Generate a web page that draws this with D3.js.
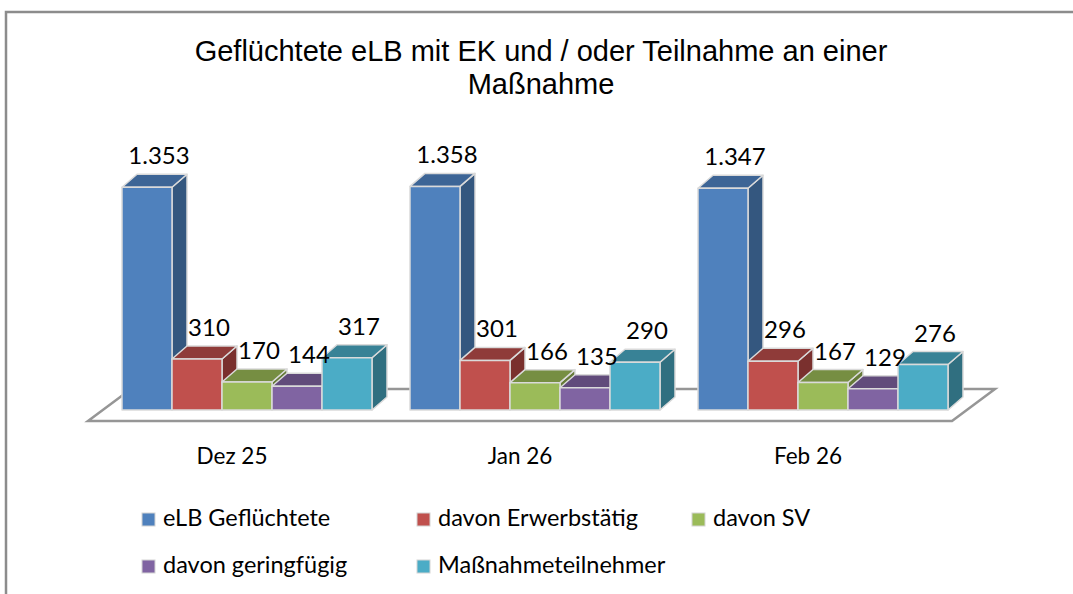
<!DOCTYPE html>
<meta charset="utf-8">
<style>
body { margin: 0; background: #fff; }
svg text { fill: #000; }
.title { font-family: "Liberation Sans", Arial, sans-serif; font-size: 29px; }
.val, .cat, .leg { font-family: Lato, "Open Sans", sans-serif; }
.val { font-size: 24px; }
.cat { font-size: 22.5px; }
.leg { font-size: 23.5px; }
.edge { stroke: #dadada; stroke-width: 1.5px; stroke-linejoin: round; }
</style>
<body>
<div id="chart"></div>
<script src="https://d3js.org/d3.v7.min.js"></script>
<script>

// data
var categories = ["Dez 25", "Jan 26", "Feb 26"];
var series = ["eLB Geflüchtete", "davon Erwerbstätig", "davon SV", "davon geringfügig", "Maßnahmeteilnehmer"];
var elb      = [1353, 1358, 1347];
var erwerb   = [310, 301, 296];
var sv       = [170, 166, 167];
var gering   = [144, 135, 129];
var massn    = [317, 290, 276];
var titleLines = ["Geflüchtete eLB mit EK und / oder Teilnahme an einer", "Maßnahme"];

var values = [elb, erwerb, sv, gering, massn];

// front / top / side shades per series
var colors = [
  {front: "#4f81bd", top: "#3d6596", side: "#34577f"},
  {front: "#c0504d", top: "#8f3b39", side: "#7a302e"},
  {front: "#9bbb59", top: "#768e42", side: "#657a38"},
  {front: "#8064a2", top: "#614b7b", side: "#533f6a"},
  {front: "#4bacc6", top: "#388296", side: "#306f80"}
];

var width = 1073, height = 594;
var base = 410;           // bottom of the bar fronts
var dx = 15, dy = -13;    // bar depth
var fdx = 43, fdy = -32;  // floor depth

var svg = d3.select("#chart").append("svg")
  .attr("width", width)
  .attr("height", height);

// chart frame
svg.append("path")
  .attr("d", "M6," + (height + 5) + "V12H" + (width + 5))
  .attr("fill", "none")
  .attr("stroke", "#8c8c8c")
  .attr("stroke-width", 2.5);

// title
svg.append("text")
  .attr("class", "title")
  .attr("text-anchor", "middle")
  .selectAll("tspan")
  .data(titleLines)
  .join("tspan")
  .attr("x", 541)
  .attr("y", function(d, i) { return 61 + i * 33; })
  .text(function(d) { return d; });

var x0 = d3.scaleBand()
  .domain(categories)
  .range([103, 967])
  .paddingInner(38 / 288)
  .paddingOuter(0.066);

var x1 = d3.scaleBand()
  .domain(series)
  .range([0, x0.bandwidth()]);

var y = d3.scaleLinear()
  .domain([0, 1500])
  .range([base, base - 247]);

// floor
var fl = x0.range()[0] - 15, fr = x0.range()[1] - 15, ff = base + 11;
svg.append("path")
  .attr("d", "M" + fl + "," + ff + "L" + fr + "," + ff + "L" + (fr + fdx) + "," + (ff + fdy) +
             "L" + (fl + fdx) + "," + (ff + fdy) + "Z")
  .attr("fill", "#fff")
  .attr("stroke", "#969696")
  .attr("stroke-width", 2.5);

// bars, drawn left to right so the later ones cover the earlier side faces
var bars = [];
categories.forEach(function(c, ci) {
  series.forEach(function(s, si) {
    bars.push({cat: c, ser: s, si: si, v: values[si][ci]});
  });
});

var g = svg.append("g");
bars.forEach(function(b) {
  var xa = x0(b.cat) + x1(b.ser), xb = xa + x1.bandwidth(), yt = y(b.v), col = colors[b.si];
  var bar = g.append("g");
  // side
  bar.append("path").attr("class", "edge")
    .attr("fill", col.side)
    .attr("d", "M" + xb + "," + base + "L" + xb + "," + yt + "L" + (xb + dx) + "," + (yt + dy) +
               "L" + (xb + dx) + "," + (base + dy) + "Z");
  // top
  bar.append("path").attr("class", "edge")
    .attr("fill", col.top)
    .attr("d", "M" + xa + "," + yt + "L" + xb + "," + yt + "L" + (xb + dx) + "," + (yt + dy) +
               "L" + (xa + dx) + "," + (yt + dy) + "Z");
  // front
  bar.append("rect").attr("class", "edge")
    .attr("fill", col.front)
    .attr("x", xa).attr("y", yt)
    .attr("width", xb - xa).attr("height", base - yt);
});

// value labels
svg.append("g").selectAll("text")
  .data(bars)
  .join("text")
  .attr("class", "val")
  .attr("text-anchor", "middle")
  .attr("x", function(d) { return x0(d.cat) + x1(d.ser) + x1.bandwidth() / 2 + 12; })
  .attr("y", function(d) { return y(d.v) + dy - 10; })
  .text(function(d) { return d3.format(",")(d.v).replace(/,/g, "."); });

// category labels
svg.append("g").selectAll("text")
  .data(categories)
  .join("text")
  .attr("class", "cat")
  .attr("text-anchor", "middle")
  .attr("x", function(d) { return x0(d) + x0.bandwidth() / 2 - 15; })
  .attr("y", 464)
  .text(function(d) { return d; });

// legend
var legend = svg.append("g").selectAll("g")
  .data(series)
  .join("g")
  .attr("transform", function(d, i) {
    return "translate(" + (142 + (i % 3) * 275) + "," + (513 + Math.floor(i / 3) * 47) + ")";
  });

legend.append("rect")
  .attr("width", 13).attr("height", 13)
  .attr("fill", function(d, i) { return colors[i].front; })
  .attr("stroke", "#d4d4d4")
  .attr("stroke-width", 1);

legend.append("text")
  .attr("class", "leg")
  .attr("x", 21)
  .attr("y", 13)
  .text(function(d) { return d; });

</script>
</body>
</html>
